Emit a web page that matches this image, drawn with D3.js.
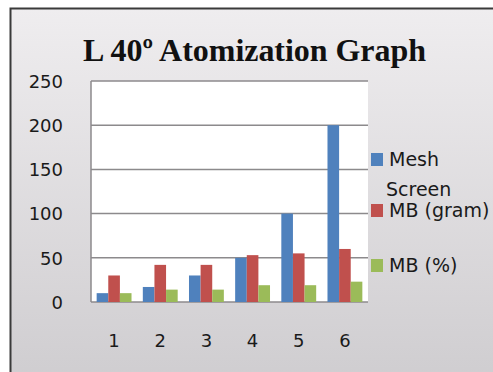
<!DOCTYPE html>
<html>
<head>
<meta charset="utf-8">
<script src="https://cdn.jsdelivr.net/npm/d3@7"></script>
<style>
  body { margin: 0; background: #fff; }
  svg { display: block; }
  .tick-label { font-family: 'DejaVu Sans', sans-serif; font-size: 18px; fill: #1a1a1a; }
  .legend-label { font-family: 'DejaVu Sans', sans-serif; font-size: 19px; fill: #1a1a1a; }
  .title { font-family: 'Liberation Serif', serif; font-weight: bold; font-size: 32px; fill: #111; }
</style>
</head>
<body>
<div id="wrapper"></div>
<script>
// Data
const categories = ['1', '2', '3', '4', '5', '6']
const seriesNames = ['Mesh Screen', 'MB (gram)', 'MB (%)']
const meshScreen = [10, 17, 30, 50, 100, 200]
const mbGram = [30, 42, 42, 53, 55, 60]
const mbPercent = [10, 14, 14, 19, 19, 23]
const yTicks = [0, 50, 100, 150, 200, 250]

const seriesColors = ['#4f81bd', '#c0504d', '#9bbb59']

function drawChart() {
  const series = [meshScreen, mbGram, mbPercent]

  const dimensions = {
    width: 493,
    height: 372,
    margin: { top: 81, right: 125, bottom: 70, left: 91 },
  }
  dimensions.boundedWidth = dimensions.width - dimensions.margin.left - dimensions.margin.right
  dimensions.boundedHeight = dimensions.height - dimensions.margin.top - dimensions.margin.bottom

  const wrapper = d3.select('#wrapper')
    .append('svg')
    .attr('width', dimensions.width)
    .attr('height', dimensions.height)

  // Background panel with a soft grey gradient
  const defs = wrapper.append('defs')
  const grad = defs.append('linearGradient')
    .attr('id', 'bg-gradient')
    .attr('x1', 0).attr('y1', 0).attr('x2', 0).attr('y2', 1)
  grad.append('stop').attr('offset', '0%').attr('stop-color', '#efedef')
  grad.append('stop').attr('offset', '100%').attr('stop-color', '#cfcdd0')

  wrapper.append('rect')
    .attr('x', 10.5).attr('y', 8.5)
    .attr('width', dimensions.width)
    .attr('height', dimensions.height)
    .attr('fill', 'url(#bg-gradient)')
    .attr('stroke', '#3a3a3a')
    .attr('stroke-width', 2)

  wrapper.append('text')
    .attr('class', 'title')
    .attr('x', 83)
    .attr('y', 61)
    .attr('textLength', 343)
    .attr('lengthAdjust', 'spacing')
    .text('L 40\u00BA Atomization  Graph')

  const bounds = wrapper.append('g')
    .attr('transform', `translate(${dimensions.margin.left},${dimensions.margin.top})`)

  // Scales
  const xScale = d3.scaleBand()
    .domain(categories)
    .range([0, dimensions.boundedWidth])
    .paddingInner(0.245)
    .paddingOuter(0.1225)

  const xInner = d3.scaleBand()
    .domain(d3.range(series.length))
    .range([0, xScale.bandwidth()])

  const yScale = d3.scaleLinear()
    .domain([0, 250])
    .range([dimensions.boundedHeight, 0])

  // Plot area
  bounds.append('rect')
    .attr('width', dimensions.boundedWidth)
    .attr('height', dimensions.boundedHeight)
    .attr('fill', '#fff')

  // Gridlines
  bounds.append('g')
    .selectAll('line')
    .data(yTicks)
    .join('line')
    .attr('x1', 0)
    .attr('x2', dimensions.boundedWidth)
    .attr('y1', d => yScale(d))
    .attr('y2', d => yScale(d))
    .attr('stroke', '#8c8a8c')
    .attr('stroke-width', 1.5)

  // Left axis line
  bounds.append('line')
    .attr('x1', 0).attr('x2', 0)
    .attr('y1', 0).attr('y2', dimensions.boundedHeight)
    .attr('stroke', '#8c8a8c')
    .attr('stroke-width', 1.5)

  // Bars
  bounds.append('g')
    .selectAll('g')
    .data(categories)
    .join('g')
    .attr('transform', d => `translate(${xScale(d)},0)`)
    .selectAll('rect')
    .data((d, i) => series.map((s, si) => ({ si, value: s[i] })))
    .join('rect')
    .attr('x', d => xInner(d.si))
    .attr('width', xInner.bandwidth())
    .attr('y', d => yScale(d.value))
    .attr('height', d => dimensions.boundedHeight - yScale(d.value))
    .attr('fill', d => seriesColors[d.si])

  // Y axis labels
  const yAxis = d3.axisLeft(yScale).tickValues(yTicks).tickSize(0).tickPadding(28)
  const yAxisGroup = bounds.append('g').call(yAxis)
  yAxisGroup.select('.domain').remove()
  yAxisGroup.selectAll('text').attr('class', 'tick-label').attr('fill', null).attr('dy', '0.35em')
  yAxisGroup.attr('font-size', null).attr('font-family', null)

  // X axis labels
  const xAxis = d3.axisBottom(xScale).tickSize(0).tickPadding(32)
  const xAxisGroup = bounds.append('g')
    .attr('transform', `translate(0,${dimensions.boundedHeight})`)
    .call(xAxis)
  xAxisGroup.select('.domain').remove()
  xAxisGroup.selectAll('text').attr('class', 'tick-label').attr('fill', null)
  xAxisGroup.attr('font-size', null).attr('font-family', null)

  // Legend
  const legendRows = [
    { lines: ['Mesh', 'Screen'], y: 153 },
    { lines: ['MB (gram)'], y: 204 },
    { lines: ['MB (%)'], y: 259 },
  ]
  const legend = wrapper.append('g')
  legendRows.forEach((row, i) => {
    legend.append('rect')
      .attr('x', 371)
      .attr('y', row.y)
      .attr('width', 12)
      .attr('height', 13)
      .attr('fill', seriesColors[i])
    const t = legend.append('text')
      .attr('class', 'legend-label')
      .attr('x', 389)
      .attr('y', row.y + 13)
    row.lines.forEach((line, li) => {
      t.append('tspan')
        .attr('x', li === 0 ? 389 : 386)
        .attr('dy', li === 0 ? 0 : 30)
        .text(line)
    })
  })
}
drawChart()
</script>
</body>
</html>
